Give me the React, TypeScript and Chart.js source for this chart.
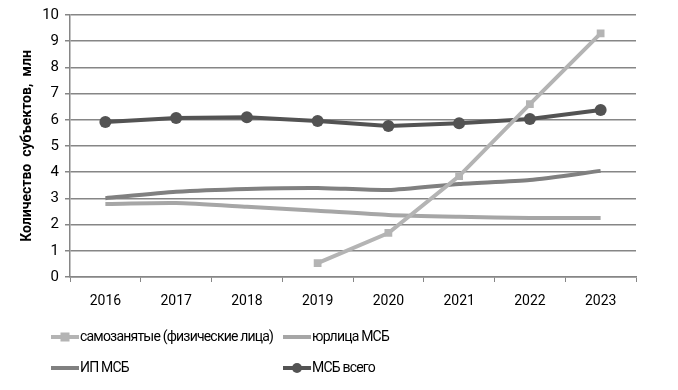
import React, { useEffect, useRef } from "react";
import { Chart, registerables } from "chart.js";

Chart.register(...registerables);

const years = ["2016", "2017", "2018", "2019", "2020", "2021", "2022", "2023"];
const selfEmployed = [null, null, null, 0.53, 1.68, 3.85, 6.6, 9.3];
const legalEntities = [2.79, 2.82, 2.68, 2.53, 2.37, 2.3, 2.25, 2.25];
const soleProprietors = [3.01, 3.25, 3.36, 3.4, 3.32, 3.55, 3.7, 4.05];
const smeTotal = [5.92, 6.07, 6.1, 5.95, 5.76, 5.87, 6.03, 6.37];
const yTicks = [0, 1, 2, 3, 4, 5, 6, 7, 8, 9, 10];

const FONT = "Roboto, 'Open Sans', sans-serif";

const legendPlugin = {
  id: "customLegend",
  afterDraw(chart: any) {
    const ctx = chart.ctx;
    const pos = [
      { x: 51, y: 337 },
      { x: 283, y: 337 },
      { x: 51, y: 368 },
      { x: 283, y: 368 },
    ];
    ctx.save();
    chart.data.datasets.forEach((ds: any, i: number) => {
      const p = pos[i];
      ctx.strokeStyle = ds.borderColor;
      ctx.lineWidth = 4;
      ctx.beginPath();
      ctx.moveTo(p.x, p.y);
      ctx.lineTo(p.x + 28, p.y);
      ctx.stroke();
      const cx = p.x + 14;
      if (ds.pointStyle === "rect") {
        ctx.fillStyle = ds.borderColor;
        ctx.fillRect(cx - 4.5, p.y - 4.5, 9, 9);
      } else if (ds.pointRadius > 0) {
        ctx.fillStyle = ds.borderColor;
        ctx.beginPath();
        ctx.arc(cx, p.y, 5, 0, Math.PI * 2);
        ctx.fill();
      }
      ctx.fillStyle = "#000";
      ctx.font = `14px ${FONT}`;
      (ctx as any).letterSpacing = "-0.8px";
      ctx.textBaseline = "middle";
      ctx.textAlign = "left";
      ctx.fillText(ds.label, p.x + 29, p.y);
    });
    ctx.restore();
  },
};

export default function App() {
  const ref = useRef<HTMLCanvasElement>(null);
  useEffect(() => {
    document.body.style.margin = "0";
    const chart = new Chart(ref.current!, {
      type: "line",
      data: {
        labels: years,
        datasets: [
          {
            label: "самозанятые (физические лица)",
            data: selfEmployed,
            borderColor: "#b4b4b4",
            backgroundColor: "#b4b4b4",
            borderWidth: 4,
            pointStyle: "rect",
            pointRadius: 5.5,
            pointBorderWidth: 0,
            tension: 0,
          },
          {
            label: "юрлица МСБ",
            data: legalEntities,
            borderColor: "#a6a6a6",
            backgroundColor: "#a6a6a6",
            borderWidth: 4,
            pointRadius: 0,
            tension: 0.2,
          },
          {
            label: "ИП МСБ",
            data: soleProprietors,
            borderColor: "#808080",
            backgroundColor: "#808080",
            borderWidth: 4,
            pointRadius: 0,
            tension: 0.2,
          },
          {
            label: "МСБ всего",
            data: smeTotal,
            borderColor: "#535353",
            backgroundColor: "#535353",
            borderWidth: 4,
            pointStyle: "circle",
            pointRadius: 6,
            pointBorderWidth: 0,
            tension: 0,
          },
        ],
      },
      options: {
        animation: false,
        responsive: false,
        layout: { padding: { top: 15, right: 42, bottom: 78, left: 0 } },
        plugins: { legend: { display: false }, tooltip: { enabled: false } },
        scales: {
          x: {
            offset: true,
            afterFit: (s: any) => {
              s.height = 35;
            },
            grid: {
              offset: true,
              drawOnChartArea: false,
              drawTicks: true,
              tickLength: 5,
              color: "#868686",
            },
            border: { color: "#868686", width: 1.5 },
            ticks: { color: "#000", font: { family: FONT, size: 14 }, padding: 11 },
          },
          y: {
            min: 0,
            max: 10,
            afterFit: (s: any) => {
              s.width = 70;
            },
            afterBuildTicks: (s: any) => {
              s.ticks = yTicks.map((v) => ({ value: v }));
            },
            grid: { color: "#868686", lineWidth: 1.5, tickLength: 5 },
            border: { color: "#868686", width: 1.5 },
            ticks: { color: "#000", font: { family: FONT, size: 15 }, padding: 6 },
            title: {
              display: true,
              text: "Количество  субъектов,  млн",
              color: "#000",
              font: { family: FONT, size: 14, weight: "bold" },
              padding: { top: 19, bottom: 0 },
            },
          },
        },
      },
      plugins: [legendPlugin],
    });
    return () => chart.destroy();
  }, []);
  return (
    <div style={{ position: "absolute", left: 0, top: 0, width: 678, height: 390, background: "#fff" }}>
      <canvas ref={ref} width={678} height={390} />
    </div>
  );
}
